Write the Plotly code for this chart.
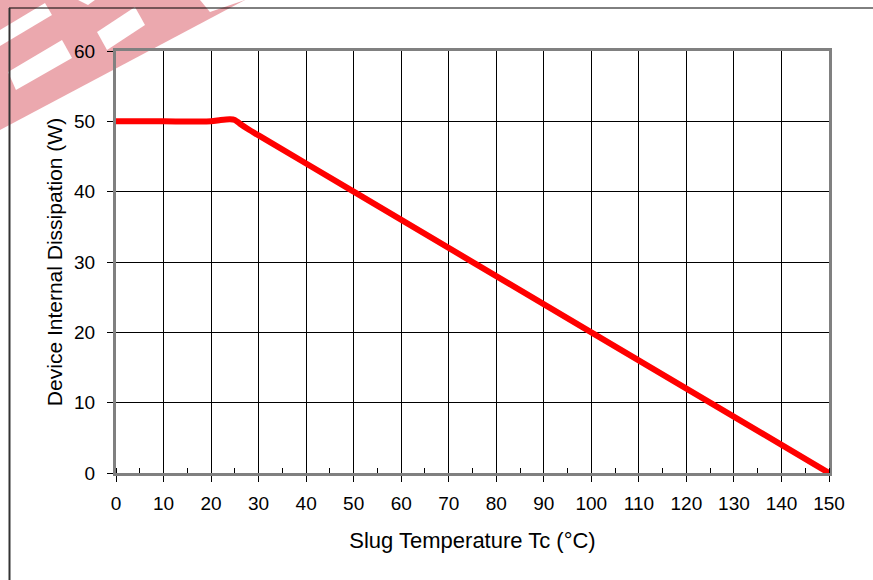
import plotly.graph_objects as go

# Data
temp_c = [0, 10, 20, 22, 24, 25, 26, 28, 30, 50, 100, 150]
power_w = [50, 50, 50, 50.2, 50.3, 50.2, 49.7, 48.8, 48, 40, 20, 0]

x_ticks = list(range(0, 151, 10))
y_ticks = list(range(0, 61, 10))

W, H = 873, 580
L, R, T, B = 116, 829, 51, 473  # plot area in pixels


def px(x):
    return (x - L) / (R - L)


def py(y):
    return (B - y) / (B - T)


def poly(points):
    return "M " + " L ".join(f"{px(a):.4f},{py(b):.4f}" for a, b in points) + " Z"


fig = go.Figure()
fig.add_trace(go.Scatter(
    x=temp_c, y=power_w, mode="lines",
    line=dict(color="#ff0000", width=6, shape="spline", smoothing=0.6),
    hoverinfo="skip", showlegend=False,
))

shapes = []
# watermark (decorative)
pink = "rgba(222,110,120,0.6)"
shapes.append(dict(type="path", xref="paper", yref="paper", layer="below",
                   path=poly([(0, 0), (245, 0), (0, 130)]),
                   fillcolor=pink, line=dict(width=0)))
for pts in [
    [(0, 30), (45, 3), (52, 15), (0, 46)],
    [(8, 72), (62, 40), (72, 58), (16, 90)],
    [(97, 32), (135, 7), (145, 25), (107, 50)],
    [(78, 0), (95, 0), (88, 5)],
    [(200, 0), (245, 0), (210, 12)],
]:
    shapes.append(dict(type="path", xref="paper", yref="paper", layer="below",
                       path=poly(pts), fillcolor="white", line=dict(width=0)))
# outer frame
shapes.append(dict(type="line", xref="paper", yref="paper",
                   x0=px(9), x1=px(873), y0=py(8), y1=py(8),
                   line=dict(color="#000000", width=1)))
shapes.append(dict(type="line", xref="paper", yref="paper",
                   x0=px(9.5), x1=px(9.5), y0=py(8), y1=py(580),
                   line=dict(color="#333333", width=2)))

fig.update_layout(
    width=W, height=H,
    margin=dict(l=L, r=W - R, t=T, b=H - B),
    paper_bgcolor="white", plot_bgcolor="white",
    font=dict(family="Liberation Sans, Arial, sans-serif", size=19, color="#000"),
    shapes=shapes,
    xaxis=dict(
        range=[0, 150], tickvals=x_ticks, ticktext=[str(v) for v in x_ticks],
        showgrid=True, gridcolor="#000000", gridwidth=1,
        showline=True, linecolor="#808080", linewidth=3, mirror=True,
        ticks="outside", ticklen=6, tickcolor="#000", tickwidth=1,
        minor=dict(ticks="inside", dtick=5, tick0=0, ticklen=5, tickcolor="#000", showgrid=False),
        zeroline=False, ticklabelstandoff=5,
        title=dict(text="Slug Temperature Tc (°C)", font=dict(size=22), standoff=20),
    ),
    yaxis=dict(
        range=[0, 60], tickvals=y_ticks, ticktext=[str(v) for v in y_ticks],
        showgrid=True, gridcolor="#000000", gridwidth=1,
        showline=True, linecolor="#808080", linewidth=3, mirror=True,
        ticks="outside", ticklen=6, tickcolor="#000", tickwidth=1,
        zeroline=False, ticklabelstandoff=8,
        title=dict(text="Device Internal Dissipation (W)", font=dict(size=21), standoff=6),
    ),
)

fig.write_html("out.html", config={"displayModeBar": False},
               post_script="document.body.style.margin='0';document.body.style.overflow='hidden';")
